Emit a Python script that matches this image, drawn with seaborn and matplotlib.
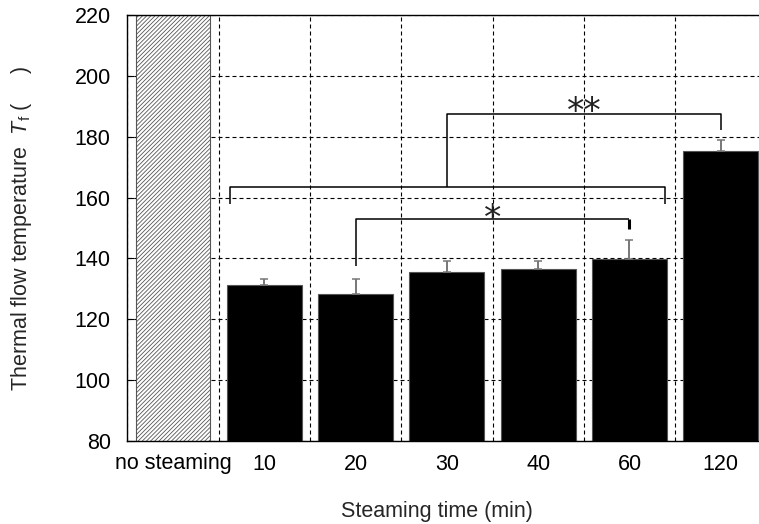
import matplotlib
matplotlib.use("Agg")
import matplotlib.pyplot as plt
import numpy as np
import pandas as pd
import seaborn as sns

# values
categories = ['no steaming', '10', '20', '30', '40', '60', '120']
tf_mean = [220.0, 131.3, 128.4, 135.5, 136.5, 139.8, 175.4]
tf_sd = [0.0, 2.1, 4.7, 3.6, 2.8, 6.3, 3.6]
y_ticks = [80, 100, 120, 140, 160, 180, 200, 220]

sns.set_theme(style="white")
plt.rcParams['font.family'] = ['Liberation Sans', 'DejaVu Sans']
plt.rcParams['mathtext.fontset'] = 'custom'
plt.rcParams['mathtext.rm'] = 'Liberation Sans'
plt.rcParams['mathtext.it'] = 'Liberation Sans:italic'
plt.rcParams['hatch.linewidth'] = 0.6
plt.rcParams['hatch.color'] = '#333333'

FS = 15.5
W, H = 759, 524
fig = plt.figure(figsize=(W / 100, H / 100), dpi=100)
# right edge of the axes runs past the picture, as in the reference
ax = fig.add_axes([127.4 / W, 1 - 441 / H, 639 / W, 426 / H])

df = pd.DataFrame({'time': categories, 'tf': tf_mean})
colors = ['white'] + ['black'] * (len(categories) - 1)
sns.barplot(data=df, x='time', y='tf', hue='time', palette=colors, legend=False,
            width=0.82, ax=ax, edgecolor='#555555', linewidth=0.8, zorder=2)
ax.patches[0].set_hatch('////////')

# upper error bars only
x = np.arange(1, len(categories))
eb = ax.errorbar(x, tf_mean[1:], yerr=[np.zeros(len(x)), tf_sd[1:]], fmt='none',
                 ecolor='#777777', elinewidth=1.4, capsize=3, capthick=1.1, zorder=3)
for cap in eb[1]:
    cap.set_color('black')

ax.set_ylim(80, 220)
ax.set_xlim(-0.5, len(categories) - 0.5)
ax.set_yticks(y_ticks)
ax.set_xticks(np.arange(-0.5, len(categories), 1), minor=True)

dash = (0, (3.6, 2.7))
ax.set_axisbelow(True)
ax.grid(which='major', axis='y', color='black', lw=0.8, ls=dash)
ax.grid(which='minor', axis='x', color='black', lw=0.8, ls=dash)
ax.grid(which='major', axis='x', visible=False)

for s in ax.spines.values():
    s.set_color('black')
    s.set_linewidth(1.0)

ax.tick_params(axis='y', which='major', direction='in', length=5, width=0.8,
               left=True, pad=12, labelsize=FS, colors='black')
ax.tick_params(axis='x', which='both', length=0, pad=9, labelsize=FS, colors='black')
ax.set_xlabel('')
ax.set_ylabel('')

fig.text(437 / W, 1 - 511 / H, 'Steaming time (min)', ha='center', va='center', fontsize=FS)
fig.text(22 / W, 1 - 228 / H, r'Thermal flow temperature  $T_{\rm f}$ (     )',
         ha='center', va='center', rotation=90, fontsize=FS)

# significance brackets
lk = dict(color='black', lw=1.1, zorder=4, solid_capstyle='butt')
ax.plot([0.62, 0.62, 5.39, 5.39], [157.9, 163.5, 163.5, 157.9], **lk)
ax.plot([3, 3, 6, 6], [163.5, 187.5, 187.5, 182.2], **lk)
ax.plot([2, 2, 5], [137.5, 153.0, 153.0], **lk)
ax.plot([5, 5], [153.0, 149.8], color='black', lw=2.2, zorder=4, solid_capstyle='butt')
ax.text(3.5, 153.0, '*', ha='center', va='center', fontsize=25, color='#222222',
        family='DejaVu Sans', zorder=5)
ax.text(4.5, 188.2, '**', ha='center', va='center', fontsize=25, color='#222222',
        family='DejaVu Sans', zorder=5)

fig.savefig('out.png', dpi=100)
